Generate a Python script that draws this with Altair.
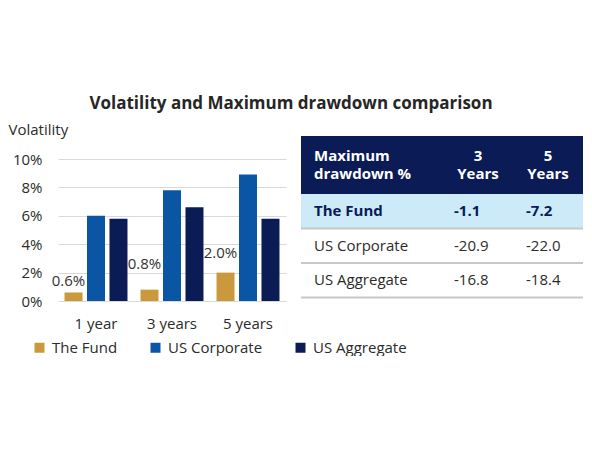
import altair as alt
import pandas as pd

# ---- data -------------------------------------------------------------
PERIODS = ["1 year", "3 years", "5 years"]
SERIES = ["The Fund", "US Corporate", "US Aggregate"]
FUND = [0.6, 0.8, 2.0]
US_CORP = [6.0, 7.8, 8.9]
US_AGG = [5.8, 6.6, 5.8]
COLORS = ["#C9993B", "#0B56A4", "#0A1B56"]
Y_TICKS = [0, 2, 4, 6, 8, 10]

TABLE_HEAD = "Maximum\ndrawdown %"
TABLE_COLS = ["3\nYears", "5\nYears"]
TABLE_ROWS = ["The Fund", "US Corporate", "US Aggregate"]
DD_3Y = [-1.1, -20.9, -16.8]
DD_5Y = [-7.2, -22.0, -18.4]

# ---- styling / layout constants ----------------------------------------
FONT = "Open Sans"
TXT = "#2b2b2b"
NAVY = "#0A1B56"
LIGHT = "#CDEAF9"
GRID = "#D9D9D9"
PX_PER_PCT = 14.2
PLOT_H = 165
PLOT_W = 228
TABLE_W = 282
ROW_PX = 34.5
HEADER_ROWS = 1.68
LABEL_DY = [-11, -26, -20]
LINE_H = 18

# ---- bar chart ----------------------------------------------------------
recs = []
for s, vals in zip(SERIES, [FUND, US_CORP, US_AGG]):
    for p, v in zip(PERIODS, vals):
        recs.append({"period": p, "series": s, "value": v})
bars_df = pd.DataFrame(recs)

x_enc = alt.X("period:N", sort=PERIODS,
              scale=alt.Scale(paddingInner=0, paddingOuter=0),
              axis=alt.Axis(title=None, labelAngle=0, ticks=False, domain=False,
                            labelPadding=15, labelFontSize=15, labelColor=TXT,
                            labelFont=FONT, grid=False))
xo_enc = alt.XOffset("series:N", sort=SERIES,
                     scale=alt.Scale(paddingInner=0.2, paddingOuter=0.29))
y_enc = alt.Y("value:Q",
              scale=alt.Scale(domain=[0, PLOT_H / PX_PER_PCT], nice=False, zero=True),
              axis=alt.Axis(values=Y_TICKS, tickCount=len(Y_TICKS),
                            labelExpr="datum.value + '%'",
                            labelOverlap=False, labelBound=False, labelFlush=False,
                            ticks=False, domain=False, grid=True, gridColor=GRID,
                            labelPadding=16, labelFontSize=15, labelColor=TXT,
                            labelFont=FONT,
                            title="Volatility", titleAngle=0, titleAlign="left",
                            titleBaseline="middle", titleX=-50, titleY=-7,
                            titleFontSize=15, titleFontWeight="normal",
                            titleColor=TXT, titleFont=FONT))

bars = alt.Chart(bars_df).mark_bar().encode(
    x=x_enc,
    xOffset=xo_enc,
    y=y_enc,
    color=alt.Color("series:N", sort=SERIES,
                    scale=alt.Scale(domain=SERIES, range=COLORS),
                    legend=alt.Legend(title=None, orient="none", direction="horizontal",
                                      legendX=-26, legendY=204,
                                      symbolType="square", symbolSize=100,
                                      symbolStrokeWidth=0,
                                      labelFontSize=15, labelFont=FONT,
                                      labelColor=TXT, labelOffset=5,
                                      columnPadding=30, padding=0)),
)

label_layers = []
for p, d in zip(PERIODS, LABEL_DY):
    label_layers.append(
        alt.Chart(bars_df)
        .transform_filter((alt.datum.series == SERIES[0]) & (alt.datum.period == p))
        .transform_calculate(lbl="format(datum.value, '.1f') + '%'")
        .mark_text(dy=d, dx=-5, fontSize=15, font=FONT, color="#333333",
                   baseline="middle")
        .encode(x=x_enc, xOffset=xo_enc, y=y_enc, text="lbl:N")
    )

left = alt.layer(bars, *label_layers).properties(width=PLOT_W, height=PLOT_H)

# ---- table ---------------------------------------------------------------
Y_MAX = PLOT_H / ROW_PX
tbl = pd.DataFrame({"name": TABLE_ROWS, "v3": DD_3Y, "v5": DD_5Y})
tbl["top"] = HEADER_ROWS + tbl.index
tbl["bottom"] = tbl["top"] + 1
tbl["mid"] = tbl["top"] + 0.5
tbl["s3"] = tbl["v3"].map(lambda v: f"{v:.1f}")
tbl["s5"] = tbl["v5"].map(lambda v: f"{v:.1f}")
tbl["x0"] = 0.0
tbl["x1"] = 1.0

head = pd.DataFrame({"x0": [0.0], "x1": [1.0], "top": [0.0], "bottom": [HEADER_ROWS],
                     "mid": [HEADER_ROWS / 2], "t": [TABLE_HEAD],
                     "c3": [TABLE_COLS[0]], "c5": [TABLE_COLS[1]]})

tx = alt.Scale(domain=[0, 1], nice=False, zero=False)
ty = alt.Scale(domain=[0, Y_MAX], nice=False, zero=False, reverse=True)

COL_LABEL_X = 13 / TABLE_W
COL3_X = 153 / TABLE_W
COL5_X = 225 / TABLE_W
HEAD3_X = 177 / TABLE_W
HEAD5_X = 247 / TABLE_W

head_rect = alt.Chart(head).mark_rect(color=NAVY).encode(
    x=alt.X("x0:Q", scale=tx, axis=None), x2="x1:Q",
    y=alt.Y("top:Q", scale=ty, axis=None), y2="bottom:Q")

fund_rect = alt.Chart(tbl).transform_filter(alt.datum.name == TABLE_ROWS[0]).mark_rect(
    color=LIGHT).encode(
    x=alt.X("x0:Q", scale=tx, axis=None), x2="x1:Q",
    y=alt.Y("top:Q", scale=ty, axis=None), y2="bottom:Q")

seps = alt.Chart(tbl).mark_rule(color="#C8C8C8", strokeWidth=2).encode(
    x=alt.X("x0:Q", scale=tx, axis=None), x2="x1:Q",
    y=alt.Y("bottom:Q", scale=ty, axis=None))


def head_text(field, xpos, align):
    return alt.Chart(head).transform_calculate(xx=str(xpos)).mark_text(
        align=align, baseline="middle", fontSize=15, fontWeight="bold", font=FONT,
        color="white", lineBreak="\n", lineHeight=LINE_H, dy=-LINE_H / 2).encode(
        x=alt.X("xx:Q", scale=tx, axis=None), y=alt.Y("mid:Q", scale=ty, axis=None),
        text=f"{field}:N")


def row_text(field, xpos, bold):
    flt = (alt.datum.name == TABLE_ROWS[0]) if bold else (alt.datum.name != TABLE_ROWS[0])
    return alt.Chart(tbl).transform_filter(flt).transform_calculate(
        xx=str(xpos)).mark_text(
        align="left", baseline="middle", fontSize=15, font=FONT,
        fontWeight="bold" if bold else "normal",
        color=NAVY if bold else TXT).encode(
        x=alt.X("xx:Q", scale=tx, axis=None), y=alt.Y("mid:Q", scale=ty, axis=None),
        text=f"{field}:N")


cells = [head_text("t", COL_LABEL_X, "left"),
         head_text("c3", HEAD3_X, "center"),
         head_text("c5", HEAD5_X, "center")]
for bold in (True, False):
    cells += [row_text("name", COL_LABEL_X, bold),
              row_text("s3", COL3_X, bold),
              row_text("s5", COL5_X, bold)]

table = alt.layer(head_rect, fund_rect, seps, *cells).properties(
    width=TABLE_W, height=PLOT_H)

chart = alt.hconcat(left, table, spacing=14).properties(
    title=alt.Title("Volatility and Maximum drawdown comparison", fontSize=17,
                    fontWeight="bold", font=FONT, color="#262626", anchor="middle",
                    offset=9, dx=-5),
    padding={"top": 87, "left": 0, "right": 0, "bottom": 0},
).configure(font=FONT, background="white").configure_view(stroke=None)

chart.save("out.html", embed_options={"renderer": "svg", "actions": False})
